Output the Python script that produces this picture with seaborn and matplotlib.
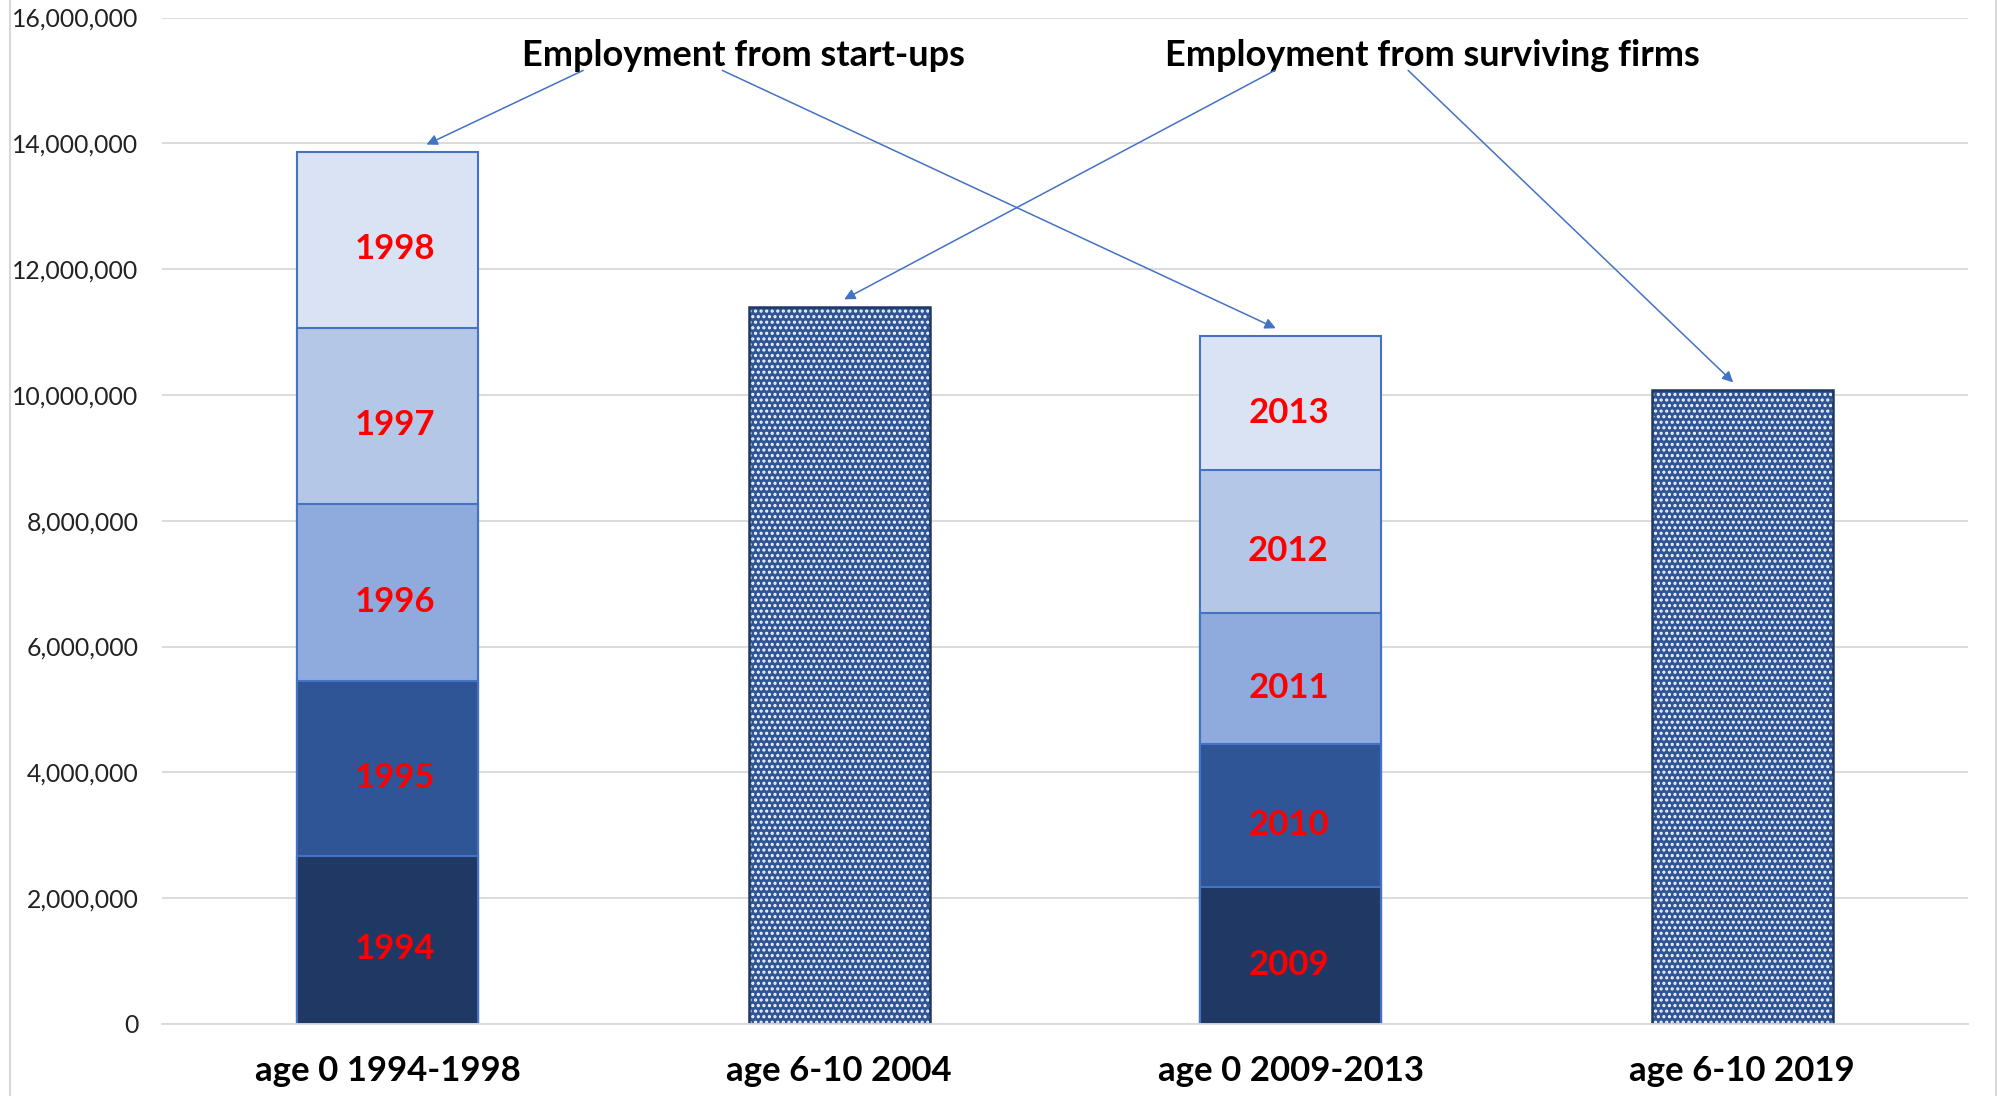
import matplotlib
matplotlib.use("Agg")
import matplotlib.pyplot as plt
import matplotlib.ticker as mticker
from matplotlib.lines import Line2D
import numpy as np
import pandas as pd
import seaborn as sns

# Categories along the x axis
categories = ["age 0 1994-1998", "age 6-10 2004", "age 0 2009-2013", "age 6-10 2019"]

# Start-up cohorts: employment contributed by each founding year
startup_cats = ["age 0 1994-1998", "age 0 2009-2013"]
cohort_years_1 = ["1994", "1995", "1996", "1997", "1998"]
cohort_years_2 = ["2009", "2010", "2011", "2012", "2013"]
cohort_emp_1 = [2670000, 2790000, 2810000, 2800000, 2790000]
cohort_emp_2 = [2180000, 2270000, 2080000, 2270000, 2140000]

# Surviving firms (age 6-10)
survivor_cats = ["age 6-10 2004", "age 6-10 2019"]
survivor_emp = [11400000, 10080000]

layer_colors = ["#203864", "#2F5597", "#8FAADC", "#B4C7E7", "#DAE3F3"]
edge_blue = "#4472C4"

sns.set_theme(style="white")
plt.rcParams["font.family"] = ["Lato", "DejaVu Sans"]
plt.rcParams["hatch.linewidth"] = 1.5

fig = plt.figure(figsize=(19.99, 10.96), dpi=100)
ax = fig.add_axes([0.081, 0.0657, 0.9035, 0.9183])

# Stacked start-up bars: draw cumulative totals, tallest first
cum1 = np.cumsum(cohort_emp_1)
cum2 = np.cumsum(cohort_emp_2)
for k in range(len(cohort_emp_1) - 1, -1, -1):
    layer = pd.DataFrame({"cat": startup_cats, "emp": [cum1[k], cum2[k]]})
    sns.barplot(data=layer, x="cat", y="emp", order=categories, color=layer_colors[k],
                saturation=1, width=0.40, edgecolor=edge_blue, linewidth=1.5, ax=ax)

# Surviving-firm bars: patterned fill, then a dark outline on top
surv = pd.DataFrame({"cat": survivor_cats, "emp": survivor_emp})
sns.barplot(data=surv, x="cat", y="emp", order=categories, color="#2F5597",
            saturation=1, width=0.40, edgecolor="#F4F7FC", linewidth=0, hatch="...", ax=ax)
sns.barplot(data=surv, x="cat", y="emp", order=categories, fill=False,
            width=0.40, edgecolor="#1F3864", linewidth=1.8, ax=ax)

# Cohort year labels in the middle of each segment
pos = {c: i for i, c in enumerate(categories)}
label_dx = {startup_cats[0]: 0.015, startup_cats[1]: -0.005}
for cat, years, vals in [(startup_cats[0], cohort_years_1, cohort_emp_1),
                         (startup_cats[1], cohort_years_2, cohort_emp_2)]:
    base = 0
    for yr, v in zip(years, vals):
        ax.text(pos[cat] + label_dx[cat], base + v / 2 - 150000, yr, color="red",
                fontsize=25, fontweight="bold", ha="center", va="center")
        base += v

# Arrow callouts
arrow_kw = dict(arrowstyle="-|>", color=edge_blue, lw=1.1, mutation_scale=16,
                shrinkA=0, shrinkB=0)
tip_gap = 120000
ax.text(0.788, 15400000, "Employment from start-ups", fontsize=26, fontweight="bold",
        ha="center", va="center", color="black")
ax.text(2.313, 15400000, "Employment from surviving firms", fontsize=26, fontweight="bold",
        ha="center", va="center", color="black")
ax.annotate("", xy=(0.086, cum1[-1] + tip_gap), xytext=(0.433, 15160000), arrowprops=arrow_kw)
ax.annotate("", xy=(1.967, cum2[-1] + tip_gap), xytext=(0.741, 15160000), arrowprops=arrow_kw)
ax.annotate("", xy=(1.011, survivor_emp[0] + tip_gap), xytext=(1.965, 15160000), arrowprops=arrow_kw)
ax.annotate("", xy=(2.980, survivor_emp[1] + tip_gap), xytext=(2.260, 15160000), arrowprops=arrow_kw)

# Axes styling
ax.set_xlim(-0.5, 3.5)
ax.set_ylim(0, 16000000)
ax.yaxis.set_major_locator(mticker.MultipleLocator(2000000))
ax.yaxis.set_major_formatter(mticker.StrMethodFormatter("{x:,.0f}"))
ax.grid(axis="y", color="#D9D9D9", linewidth=1.3)
ax.set_axisbelow(True)
for side in ["left", "right", "top"]:
    ax.spines[side].set_visible(False)
ax.spines["bottom"].set_color("#D9D9D9")
ax.spines["bottom"].set_linewidth(1.3)
ax.set_xlabel("")
ax.set_ylabel("")
ax.tick_params(axis="y", length=0, pad=17, labelsize=17.8, labelcolor="#222222")
ax.tick_params(axis="x", length=0, pad=22, labelsize=25)
for lbl in ax.get_xticklabels():
    lbl.set_fontweight("bold")
    lbl.set_color("black")

# Chart frame edges
fig.add_artist(Line2D([10 / 1999, 10 / 1999], [0, 1], color="#D9D9D9", lw=1.5))
fig.add_artist(Line2D([1996 / 1999, 1996 / 1999], [0, 1], color="#D9D9D9", lw=1.5))

fig.savefig("out.png", dpi=100)
